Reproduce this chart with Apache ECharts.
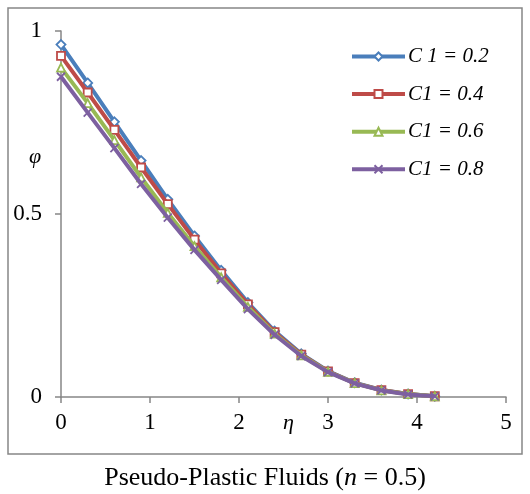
<!DOCTYPE html>
<html><head><meta charset="utf-8">
<script src="https://cdn.jsdelivr.net/npm/echarts@6/dist/echarts.min.js"></script>
<style>html,body{margin:0;padding:0;background:#fff}#c{width:530px;height:494px}</style>
</head><body><div id="c"></div>
<script>
const etaValues = [0,0.3,0.6,0.9,1.2,1.5,1.8,2.1,2.4,2.7,3.0,3.3,3.6,3.9,4.2];
const seriesNames = ['C 1 = 0.2','C1 = 0.4','C1 = 0.6','C1 = 0.8'];
const phiC02 = [0.963,0.858,0.752,0.646,0.540,0.440,0.346,0.258,0.180,0.118,0.071,0.039,0.019,0.008,0.002];
const phiC04 = [0.932,0.832,0.730,0.627,0.527,0.430,0.338,0.253,0.177,0.116,0.070,0.038,0.019,0.008,0.002];
const phiC06 = [0.900,0.803,0.702,0.600,0.503,0.412,0.327,0.246,0.173,0.114,0.069,0.038,0.018,0.008,0.002];
const phiC08 = [0.875,0.777,0.680,0.582,0.490,0.402,0.320,0.240,0.170,0.112,0.068,0.037,0.018,0.007,0.002];
const xTicks = [0,1,2,3,4,5];
const yTicks = [0,0.5,1];

const colors = ['#4A7EBB','#BE4B48','#98B954','#7D60A0'];
const symbols = ['diamond','rect','triangle','path://M0,0L10,10M10,0L0,10'];
const allData = [phiC02,phiC04,phiC06,phiC08];
const serif = '"Liberation Serif","Times New Roman",serif';

const series = allData.map((vals,i)=>({
  name: seriesNames[i],
  type: 'line',
  data: etaValues.map((x,j)=>[x,vals[j]]),
  symbol: symbols[i],
  symbolSize: i===0?9:8,
  showAllSymbol: true,
  lineStyle: {color: colors[i], width: 4},
  itemStyle: {color: i===3 ? colors[i] : '#fff', borderColor: colors[i], borderWidth: 1.8},
  z: 2 + i,
  animation: false
}));

const chart = echarts.init(document.getElementById('c'), null, {renderer:'canvas'});
chart.setOption({
  animation: false,
  color: colors,
  grid: {left: 61, right: 24, top: 31, bottom: 97, containLabel: false},
  xAxis: {
    type: 'value', min: 0, max: 5, interval: 1,
    axisLine: {lineStyle: {color: '#868686', width: 1.5}},
    axisTick: {show: true, length: 6, lineStyle: {color: '#868686', width: 1.5}},
    splitLine: {show: false},
    axisLabel: {color: '#000', fontFamily: serif, fontSize: 23, margin: 14,
      formatter: v => xTicks.includes(v) ? String(v) : ''}
  },
  yAxis: {
    type: 'value', min: 0, max: 1, interval: 0.5,
    axisLine: {show: true, lineStyle: {color: '#868686', width: 1.5}},
    axisTick: {show: true, length: 6, lineStyle: {color: '#868686', width: 1.5}},
    splitLine: {show: false},
    axisLabel: {color: '#000', fontFamily: serif, fontSize: 23, margin: 19,
      formatter: v => yTicks.includes(v) ? String(v) : ''}
  },
  legend: {
    orient: 'vertical', left: 345, top: 41, itemGap: 16.6,
    itemWidth: 53, itemHeight: 10,
    lineStyle: {width: 4},
    textStyle: {fontFamily: serif, fontStyle: 'italic', fontSize: 21, color: '#000', padding: [0,0,0,-2]},
    data: seriesNames
  },
  graphic: [
    {type: 'rect', shape: {x: 8, y: 8, width: 514, height: 446},
     style: {fill: 'none', stroke: '#868686', lineWidth: 1.5}, silent: true, z: -1},
    {type: 'text', left: 29, top: 146,
     style: {text: 'φ', font: 'italic 22px ' + serif, fill: '#000'}},
    {type: 'text', left: 283, top: 412,
     style: {text: 'η', font: 'italic 22px ' + serif, fill: '#000'}},
    {type: 'text', left: 'center', top: 465,
     style: {rich: {n: {font: '26px ' + serif, fill: '#000'}, i: {font: 'italic 26px ' + serif, fill: '#000'}},
       text: '{n|Pseudo-Plastic Fluids (}{i|n}{n| = 0.5)}'}}
  ],
  series: series
});
</script></body></html>
